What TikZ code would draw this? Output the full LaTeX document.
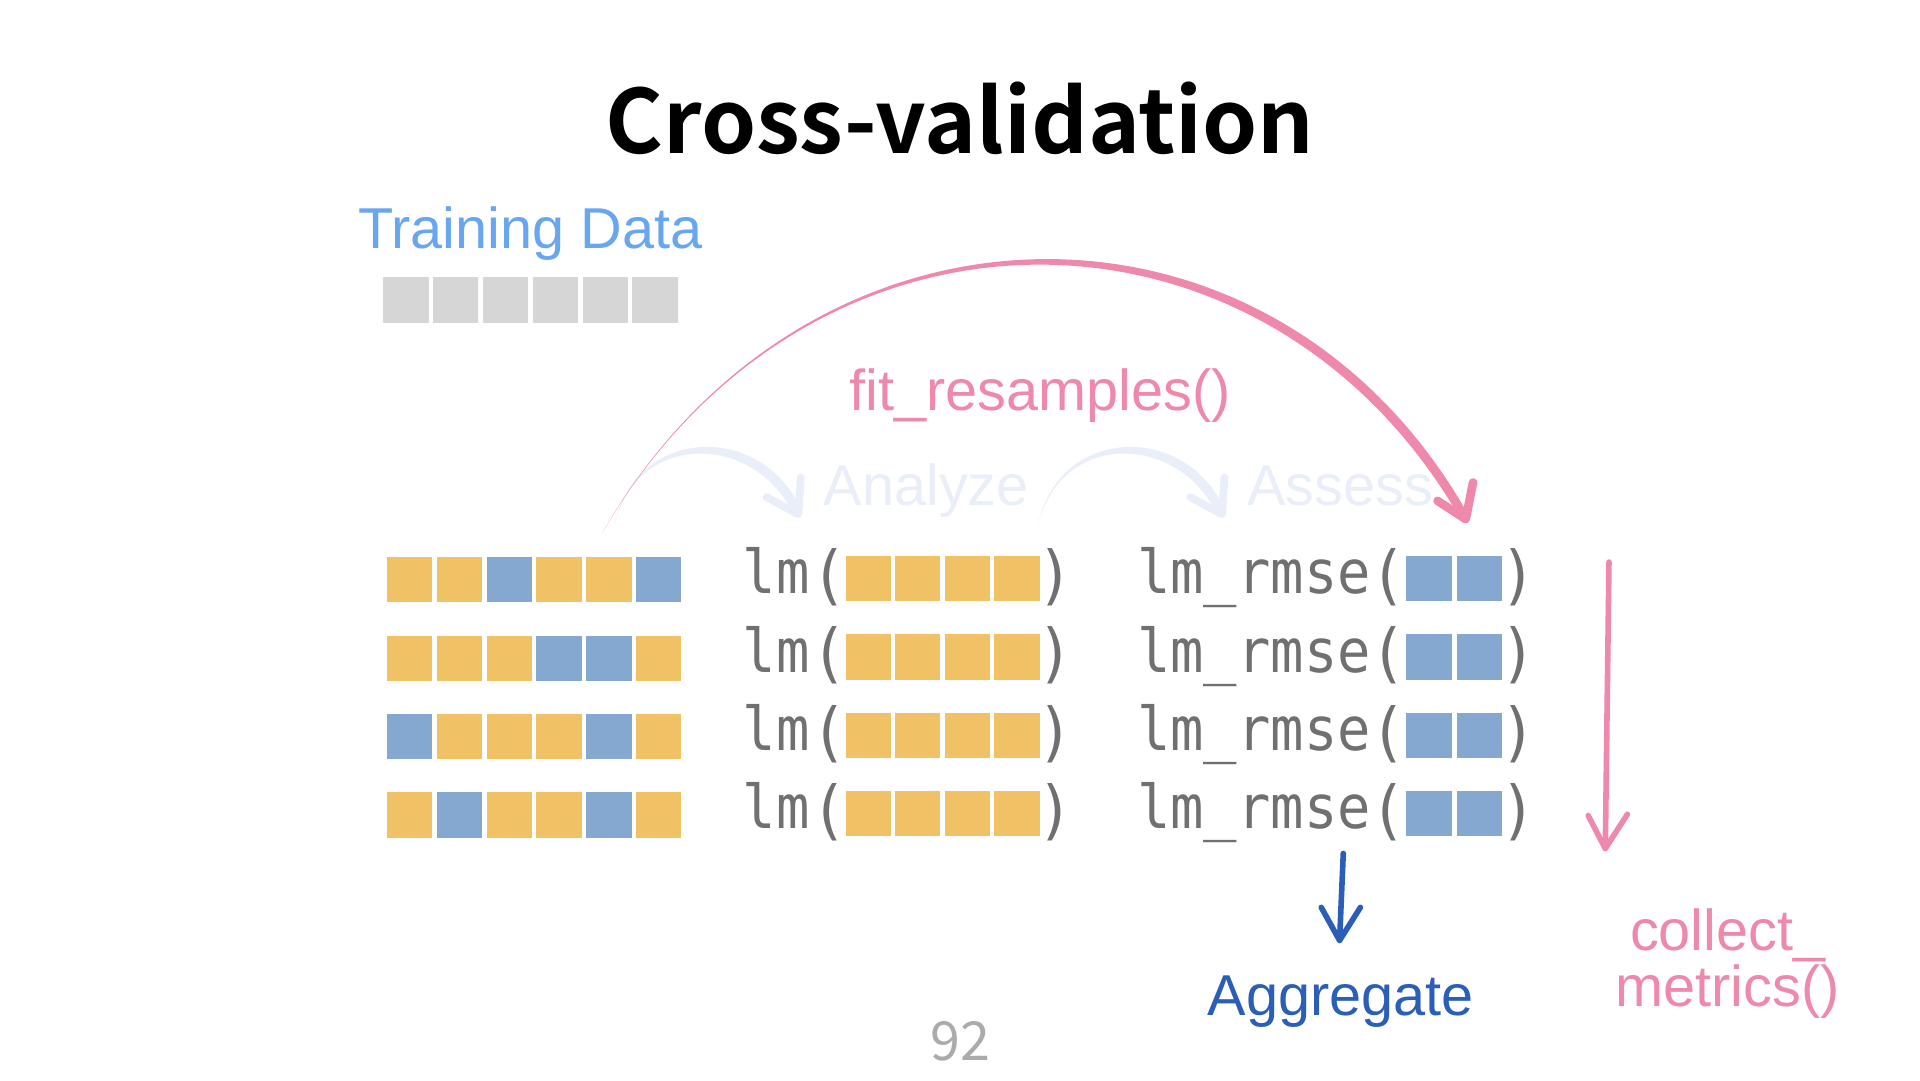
\documentclass[tikz,border=0pt]{standalone}
\usepackage{fontspec}
\usetikzlibrary{calc}
\setmainfont{Liberation Sans}
\newfontfamily\codefont{DejaVu Sans Mono}[FakeStretch=0.92]
\newfontfamily\titlefont{Noto Sans CJK SC Bold}
\newfontfamily\pagefont{Noto Sans CJK SC}
\definecolor{colY}{RGB}{240,194,101}
\definecolor{colB}{RGB}{133,168,209}
\definecolor{colG}{RGB}{214,214,214}
\definecolor{pinkc}{RGB}{238,137,171}
\definecolor{paleblue}{RGB}{233,238,248}
\definecolor{darkblue}{RGB}{43,95,183}
\definecolor{trainblue}{RGB}{105,166,240}
\definecolor{codegray}{RGB}{112,112,112}
\tikzset{
  fold/.style={inner sep=0pt, minimum width=3.7mm, minimum height=3.7mm},
  code/.style={inner sep=0pt, anchor=base west, text=codegray, font=\codefont\fontsize{14}{16}\selectfont},
  paren/.style={inner sep=0pt, anchor=base, text=codegray, font=\codefont\fontsize{15}{17}\selectfont},
  lbl/.style={inner sep=0pt, anchor=base west, font=\fontsize{13.4}{16}\selectfont},
  wing/.style={line cap=round, line join=round}
}
\begin{document}
\begin{tikzpicture}[x=0.1mm,y=-0.1mm]
\useasboundingbox (0,0) rectangle (1568,882);
\node[inner sep=0pt, anchor=base, font=\titlefont\fontsize{20.5}{24}\selectfont] (title) at (784,125) {Cross-validation};
\node[inner sep=0pt, anchor=base, text=black!33, font=\pagefont\fontsize{12.5}{15}\selectfont] (page) at (784,866) {92};
% training data
\node[lbl, text=trainblue] (train) at (292,203) {Training Data};
\foreach \i in {1,...,6} \node[fold, fill=colG] (t\i) at (331.5+40.7*\i-40.7, 245) {};
% folds
\foreach \r/\pat in {1/{Y,Y,B,Y,Y,B}, 2/{Y,Y,Y,B,B,Y}, 3/{B,Y,Y,Y,B,Y}, 4/{Y,B,Y,Y,B,Y}}
  \foreach \c [count=\i] in \pat \node[fold, fill=col\c] (r\r c\i) at (334.5+40.7*\i-40.7, 409.5+64*\r) {};
% models and metrics
\foreach \r in {1,...,4} {
  \node[code] (lm\r) at (606, 421+64*\r) {lm};
  \node[paren] (lmo\r) at (677, 424+64*\r) {(};
  \foreach \i in {1,...,4} \node[fold, fill=colY] (a\r\i) at (709+40.5*\i-40.5, 408.5+64*\r) {};
  \node[paren] (lmc\r) at (862, 424+64*\r) {)};
  \node[code] (rm\r) at (928, 421+64*\r) {lm\_rmse};
  \node[paren] (rmo\r) at (1134, 424+64*\r) {(};
  \foreach \i in {1,2} \node[fold, fill=colB] (s\r\i) at (1167+41*\i-41, 408.5+64*\r) {};
  \node[paren] (rmc\r) at (1240, 424+64*\r) {)};
}
% analyze / assess
\node[lbl, text=paleblue] (analyze) at (672,413) {Analyze};
\node[lbl, text=paleblue] (assess) at (1018,413) {Assess};
\coordinate (an0) at (502,428);
\coordinate (an1) at (652,420);
\coordinate (as0) at (848,428);
\coordinate (as1) at (998,420);
\fill[paleblue] (an0) .. controls (518.2,348.6) and (622.9,342.8) .. ($(an1)+(3.4,-1.5)$) -- ($(an1)-(3.4,-1.5)$) .. controls (619.1,355.2) and (521.8,349.4) .. (an0) -- cycle;
\draw[paleblue, wing, line width=1.8pt] ($(an1)+(-26,-14)$) -- (an1) -- ($(an1)+(2,-30)$);
\fill[paleblue] (as0) .. controls (864.2,348.6) and (968.9,342.8) .. ($(as1)+(3.4,-1.5)$) -- ($(as1)-(3.4,-1.5)$) .. controls (965.1,355.2) and (867.8,349.4) .. (as0) -- cycle;
\draw[paleblue, wing, line width=1.8pt] ($(as1)+(-26,-14)$) -- (as1) -- ($(as1)+(2,-30)$);
% fit_resamples
\node[lbl, text=pinkc] (fit) at (693,335) {fit\_resamples()};
\coordinate (fit0) at (492,435);
\coordinate (fit1) at (1197,424);
\fill[pinkc] (fit0) .. controls (659.9,141.4) and (1040.75,137.2) .. ($(fit1)+(3.1,-1.8)$) -- ($(fit1)-(3.1,-1.8)$) .. controls (1035.25,146.8) and (662.1,142.6) .. (fit0) -- cycle;
\draw[pinkc, wing, line width=2pt] ($(fit1)+(-23,-15)$) -- (fit1) -- ($(fit1)+(6,-30)$);
% collect / aggregate
\coordinate (col0) at (1314,459);
\coordinate (col1) at (1311,693);
\draw[pinkc, wing, line width=1.3pt] (col0) -- (col1);
\draw[pinkc, wing, line width=1.3pt] ($(col1)+(-14,-27)$) -- (col1) -- ($(col1)+(18,-28)$);
\node[lbl, text=pinkc, anchor=base] (collect) at (1411,776) {collect\_};
\node[lbl, text=pinkc, anchor=base] (metrics) at (1411,822) {metrics()};
\coordinate (agg0) at (1097,697);
\coordinate (agg1) at (1094,768);
\draw[darkblue, wing, line width=1.3pt] (agg0) -- (agg1);
\draw[darkblue, wing, line width=1.3pt] ($(agg1)+(-15,-27)$) -- (agg1) -- ($(agg1)+(17,-27)$);
\node[lbl, text=darkblue, anchor=base] (aggregate) at (1095,829) {Aggregate};
\end{tikzpicture}
\end{document}
